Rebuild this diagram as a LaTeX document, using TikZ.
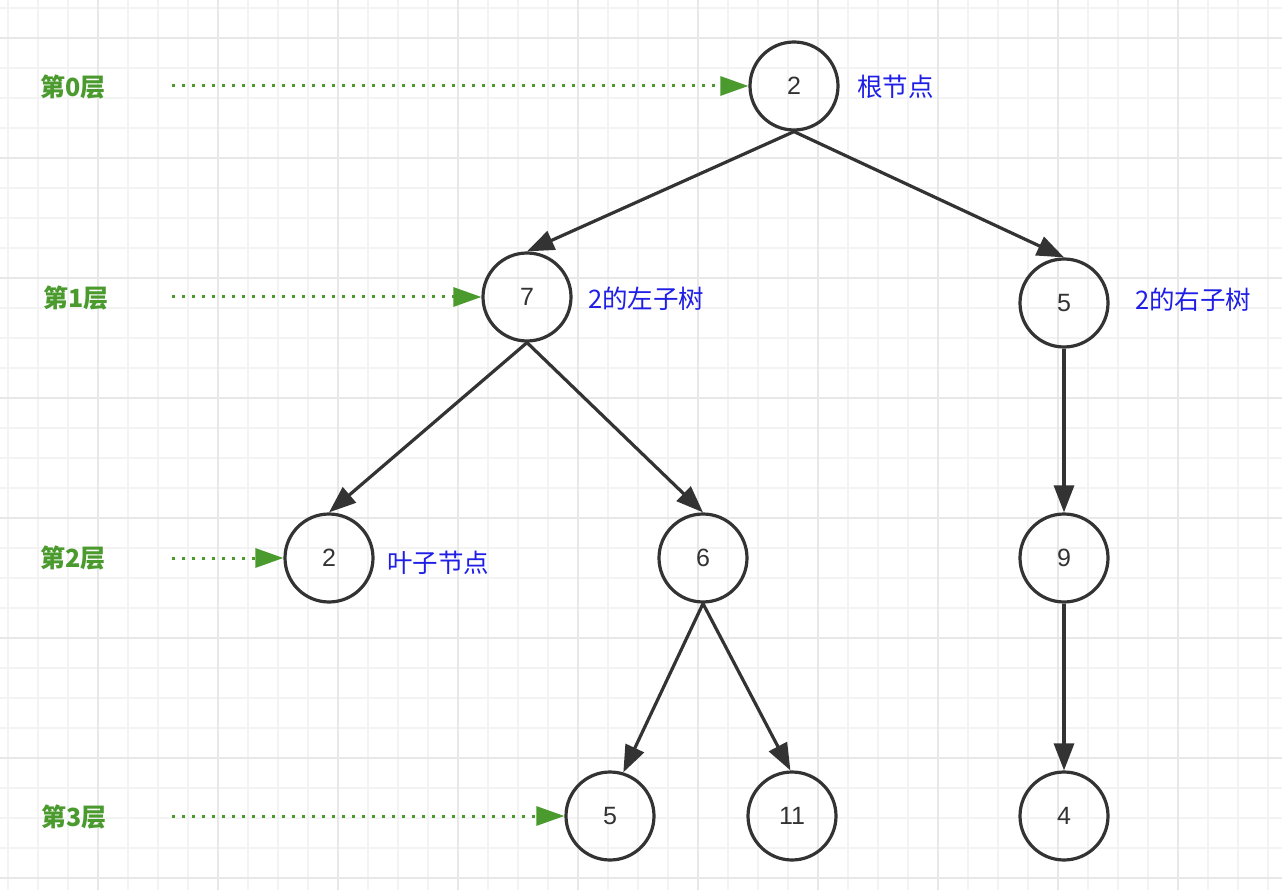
\documentclass[tikz,border=0pt]{standalone}
\usepackage{fontspec}
\setmainfont{Liberation Sans}
\newfontfamily\cjk{Noto Sans CJK SC}
\usetikzlibrary{arrows.meta}
\definecolor{gridmin}{HTML}{F3F3F3}
\definecolor{gridmaj}{HTML}{E8E8E8}
\definecolor{lvl}{HTML}{4A9A2E}
\definecolor{lbl}{HTML}{1E1EE6}
\definecolor{ink}{HTML}{333333}
\begin{document}
\begin{tikzpicture}[x=1pt,y=-1pt,
 tnode/.style={circle,draw=ink,line width=3.2pt,minimum size=88pt,inner sep=0pt,font=\fontsize{25}{25}\selectfont,text=ink},
 edge/.style={draw=ink,line width=3.2pt,-{Triangle[length=27pt,width=20pt]}},
 lvlarrow/.style={draw=lvl,line width=3pt,dash pattern=on 3pt off 7pt,-{Triangle[length=28pt,width=19pt]}},
 lvltext/.style={anchor=west,text=lvl,font=\cjk\bfseries\fontsize{25}{25}\selectfont,inner sep=0pt},
 note/.style={anchor=west,text=lbl,font=\cjk\fontsize{25.5}{25.5}\selectfont,inner sep=0pt}]
\useasboundingbox (0,0) rectangle (1282,890);
\fill[white] (0,0) rectangle (1282,890);
\foreach \x in {8,38,...,1280} \draw[gridmin,line width=1.2pt] (\x,0) -- (\x,890);
\foreach \y in {8,38,...,890} \draw[gridmin,line width=1.2pt] (0,\y) -- (1282,\y);
\foreach \x in {98,218,...,1280} \draw[gridmaj,line width=2pt] (\x,0) -- (\x,890);
\foreach \y in {38,158,...,890} \draw[gridmaj,line width=2pt] (0,\y) -- (1282,\y);

\node[tnode] (r) at (794,86) {2};
\node[tnode] (a7) at (527,297) {7};
\node[tnode] (b5) at (1064,303) {5};
\node[tnode] (c2) at (329,558) {2};
\node[tnode] (c6) at (703,558) {6};
\node[tnode] (c9) at (1064,558) {9};
\node[tnode] (d5) at (610,816) {5};
\node[tnode] (d11) at (792,816) {11};
\node[tnode] (d4) at (1064,816) {4};

\draw[edge] (r.south) -- (a7.north);
\draw[edge] (r.south) -- (b5.north);
\draw[edge] (a7.south) -- (c2.north);
\draw[edge] (a7.south) -- (c6.north);
\draw[edge] (b5.south) -- (c9.north);
\draw[edge] (c9.south) -- (d4.north);
\draw[edge] (c6.south) -- (d5.73);
\draw[edge] (c6.south) -- (d11.92);

\node[lvltext] (t0) at (40,87) {第0层};
\node[lvltext] (t1) at (43,298) {第1层};
\node[lvltext] (t2) at (40,558) {第2层};
\node[lvltext] (t3) at (41,817) {第3层};

\coordinate (s0) at (172,86);
\coordinate (s1) at (172,297);
\coordinate (s2) at (172,558);
\coordinate (s3) at (172,816);
\draw[lvlarrow] (s0) -- (r.west);
\draw[lvlarrow] (s1) -- (a7.west);
\draw[lvlarrow] (s2) -- (c2.west);
\draw[lvlarrow] (s3) -- (d5.west);

\node[note] (n0) at (857,87) {根节点};
\node[note] (n1) at (588,299) {2的左子树};
\node[note] (n2) at (1135,300) {2的右子树};
\node[note] (n3) at (387,563) {叶子节点};
\end{tikzpicture}
\end{document}
